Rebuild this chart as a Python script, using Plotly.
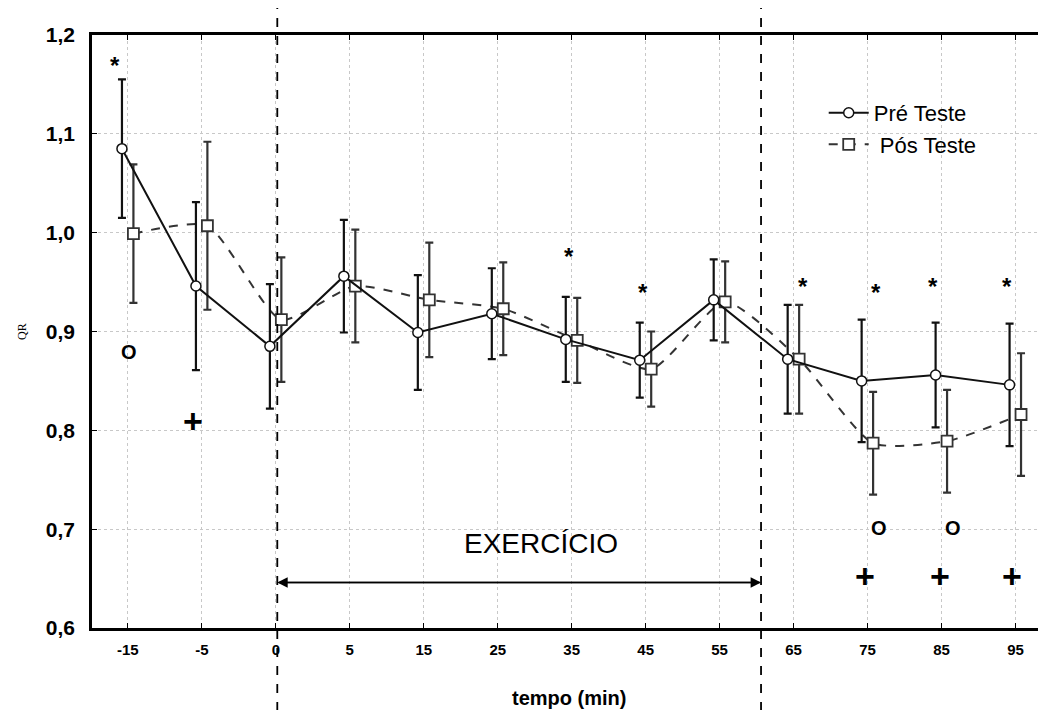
import plotly.graph_objects as go

# ---- data ----
categories = ["-15", "-5", "0", "5", "15", "25", "35", "45", "55", "65", "75", "85", "95"]
pre_mean = [1.085, 0.946, 0.885, 0.956, 0.899, 0.918, 0.892, 0.871, 0.932, 0.872, 0.850, 0.856, 0.846]
pre_err = [0.070, 0.085, 0.063, 0.057, 0.058, 0.046, 0.043, 0.038, 0.041, 0.055, 0.062, 0.053, 0.062]
pos_mean = [0.999, 1.007, 0.912, 0.946, 0.932, 0.923, 0.891, 0.862, 0.930, 0.872, 0.787, 0.789, 0.816]
pos_err = [0.070, 0.085, 0.063, 0.057, 0.058, 0.047, 0.043, 0.038, 0.041, 0.055, 0.052, 0.052, 0.062]
y_tickvals = [0.6, 0.7, 0.8, 0.9, 1.0, 1.1, 1.2]
y_ticktext = ["0,6", "0,7", "0,8", "0,9", "1,0", "1,1", "1,2"]

star_x = [-0.17, 5.97, 6.96, 9.13, 10.11, 10.89, 11.88]
star_y = [1.169, 0.976, 0.939, 0.946, 0.939, 0.946, 0.946]
o_x = [0.02, 10.16, 11.16]
o_y = [0.879, 0.701, 0.701]
plus_x = [0.88, 9.97, 10.98, 11.95]
plus_y = [0.809, 0.653, 0.653, 0.653]

exercise_start = 2.02
exercise_end = 8.56

idx = list(range(len(categories)))
pre_x = [i - 0.08 for i in idx]
pos_x = [i + 0.075 for i in idx]

FONT = "Liberation Sans, Arial"
NARROW = "Liberation Sans Narrow, Liberation Sans, Arial"

fig = go.Figure()

fig.add_trace(go.Scatter(
    x=pos_x, y=pos_mean, name=" Pós Teste", mode="lines+markers",
    line=dict(color="#333333", width=2, dash="dash", shape="spline", smoothing=0.6),
    marker=dict(symbol="square", size=11, color="white", line=dict(color="#333333", width=1.8)),
    error_y=dict(type="data", array=pos_err, visible=True, color="#333333", thickness=2.2, width=4),
))
fig.add_trace(go.Scatter(
    x=pre_x, y=pre_mean, name="Pré Teste", mode="lines+markers",
    line=dict(color="#111111", width=2),
    marker=dict(symbol="circle", size=10, color="white", line=dict(color="#111111", width=1.5)),
    error_y=dict(type="data", array=pre_err, visible=True, color="#111111", thickness=2.2, width=4),
))

anns = []
for x, y in zip(star_x, star_y):
    anns.append(dict(x=x, y=y, text="<b>*</b>", showarrow=False, font=dict(size=24, color="black", family=FONT)))
for x, y in zip(o_x, o_y):
    anns.append(dict(x=x, y=y, text="<b>O</b>", showarrow=False, font=dict(size=20, color="black", family=FONT)))
for x, y in zip(plus_x, plus_y):
    anns.append(dict(x=x, y=y, text="<b>+</b>", showarrow=False, font=dict(size=34, color="black", family=FONT)))

anns.append(dict(x=5.59, y=0.686, text="EXERCÍCIO", showarrow=False,
                 font=dict(size=28, color="black", family=FONT)))
# double-headed arrow
anns.append(dict(x=exercise_end, y=0.646, ax=exercise_start, ay=0.646, xref="x", yref="y", axref="x", ayref="y",
                 text="", showarrow=True, arrowhead=2, arrowsize=1.3, arrowwidth=1.6, arrowcolor="black"))
anns.append(dict(x=exercise_start, y=0.646, ax=exercise_end, ay=0.646, xref="x", yref="y", axref="x", ayref="y",
                 text="", showarrow=True, arrowhead=2, arrowsize=1.3, arrowwidth=1.6, arrowcolor="black"))
anns.append(dict(x=-0.083, xref="paper", y=0.5, yref="paper", text="QR", textangle=-90, showarrow=False,
                 font=dict(size=12, color="black", family="Liberation Serif, Times New Roman")))
anns.append(dict(x=5.96, xref="x", y=-0.118, yref="paper", text="<b>tempo (min)</b>", showarrow=False,
                 yanchor="middle", font=dict(size=20, color="black", family=NARROW)))

shapes = []
for xv in [exercise_start, exercise_end]:
    shapes.append(dict(type="line", xref="x", yref="paper", x0=xv, x1=xv, y0=-0.14, y1=1.06,
                       line=dict(color="black", width=1.8, dash="dash")))

fig.update_layout(
    width=1046, height=710,
    margin=dict(l=84, r=0, t=27, b=90),
    paper_bgcolor="white", plot_bgcolor="white",
    showlegend=True,
    legend=dict(x=0.763, y=0.904, xanchor="left", yanchor="top", bgcolor="rgba(0,0,0,0)",
                font=dict(size=22, color="black", family=FONT),
                traceorder="reversed", itemwidth=40, tracegroupgap=0),
    annotations=anns,
    shapes=shapes,
    xaxis=dict(
        range=[-0.485, 12.48], tickmode="array", tickvals=idx, ticktext=["<b>%s</b>" % c for c in categories],
        tickfont=dict(size=15, color="black", family=NARROW),
        showgrid=True, gridcolor="#c8c8c8", griddash="dot", gridwidth=1,
        showline=True, linecolor="black", linewidth=2.5, mirror="ticks",
        ticks="inside", ticklen=5, tickcolor="black",
        zeroline=False, ticklabelstandoff=6,
    ),
    yaxis=dict(
        range=[0.6, 1.2], tickmode="array", tickvals=y_tickvals, ticktext=["<b>%s</b>" % t for t in y_ticktext],
        tickfont=dict(size=21, color="black", family=FONT),
        showgrid=True, gridcolor="#c8c8c8", griddash="dot", gridwidth=1,
        showline=True, linecolor="black", linewidth=2.5, mirror=True,
        ticks="inside", ticklen=5, tickcolor="black",
        zeroline=False, ticklabelstandoff=10,
    ),
)

fig.write_html("out.html")
